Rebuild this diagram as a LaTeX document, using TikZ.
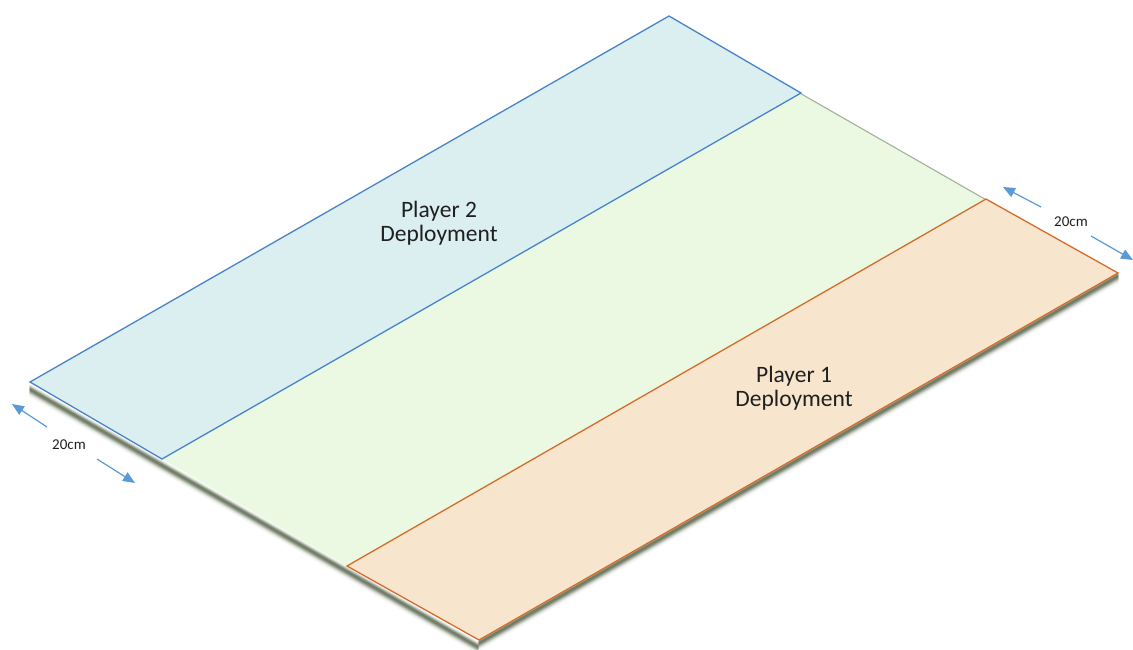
\documentclass[tikz,border=0pt]{standalone}
\usepackage{fontspec}
\setmainfont{Carlito}
\usetikzlibrary{arrows.meta}
\definecolor{ptwofill}{RGB}{219,238,240}
\definecolor{ptwoline}{RGB}{72,132,200}
\definecolor{midfill}{RGB}{235,248,226}
\definecolor{ponefill}{RGB}{247,230,205}
\definecolor{poneline}{RGB}{212,108,42}
\definecolor{arrowblue}{RGB}{91,155,213}
\definecolor{edgedark}{RGB}{112,124,102}
\definecolor{rimshadow}{RGB}{168,176,160}
\begin{document}
\begin{tikzpicture}[x=1pt,y=-1pt,
  zoneP2/.style={fill=ptwofill,draw=ptwoline,line width=1.3pt,line join=miter},
  zoneP1/.style={fill=ponefill,draw=poneline,line width=1.3pt,line join=miter},
  zoneMid/.style={fill=midfill},
  rim/.style={line width=1.4pt,line cap=round},
  lbl/.style={align=center,inner sep=0pt,text=black!88,font=\fontsize{23.5}{24.5}\selectfont},
  dimlbl/.style={inner sep=0pt,text=black!88,font=\fontsize{15}{18}\selectfont},
  dimarrow/.style={draw=arrowblue,line width=1.2pt,-{Triangle[length=12pt,width=10pt]},fill=arrowblue}]
\useasboundingbox (0,0) rectangle (1133,649);
% board corners
\coordinate (T) at (669,16);
\coordinate (A1) at (801,93);
\coordinate (B1) at (986,199);
\coordinate (R) at (1118,273);
\coordinate (L) at (30,382);
\coordinate (A2) at (162,459);
\coordinate (B2) at (347,566);
\coordinate (B) at (479,640);
% board thickness (left front face)
\foreach \d/\p in {3/10,4/25,5/50,6/78,7/95,8/100,9/92,10/75,11/55,12/35,13/18,14/8}{
  \draw[rim,color=edgedark!\p!white] ([yshift=-\d pt]L) -- ([yshift=-\d pt]B);
}
% board thickness (right front face)
\foreach \d/\p in {1/60,2/90,3/100,4/100,5/88,6/68,7/48,8/30,9/15,10/6}{
  \draw[rim,color=edgedark!\p!white] ([yshift=-\d pt]B) -- ([yshift=-\d pt]R);
}
% zones
\fill[zoneMid] (A1) -- (B1) -- (B2) -- (A2) -- cycle;
\draw[rimshadow,line width=1.1pt] ([yshift=-0.8pt]A1) -- ([yshift=-0.8pt]B1);
\filldraw[zoneP2] (T) -- (A1) -- (A2) -- (L) -- cycle;
\filldraw[zoneP1] (B1) -- (R) -- (B) -- (B2) -- cycle;
% labels
\node[lbl] (p2) at (439,223) {Player 2\\Deployment};
\node[lbl] (p1) at (794,388) {Player 1\\Deployment};
% dimension marks
\node[dimlbl,anchor=base] (dl) at (69,449) {20cm};
\node[dimlbl,anchor=base] (dr) at (1071,226) {20cm};
\coordinate (dlas) at (47,427);
\coordinate (dlat) at (12,404);
\coordinate (dlbs) at (97,459);
\coordinate (dlbt) at (135,483);
\coordinate (dras) at (1041,207);
\coordinate (drat) at (1003,187);
\coordinate (drbs) at (1091,236);
\coordinate (drbt) at (1133,260);
\draw[dimarrow] (dlas) -- (dlat);
\draw[dimarrow] (dlbs) -- (dlbt);
\draw[dimarrow] (dras) -- (drat);
\draw[dimarrow] (drbs) -- (drbt);
\end{tikzpicture}
\end{document}
